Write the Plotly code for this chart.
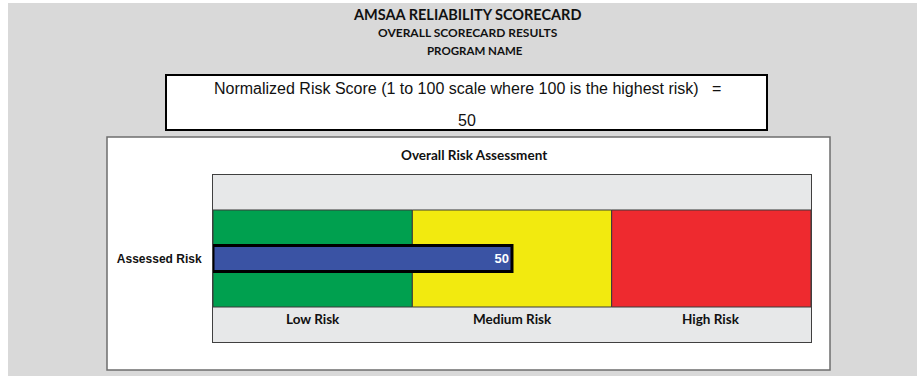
import plotly.graph_objects as go

# Risk zones along the 0-100 normalized scale
zone_names = ["Low Risk", "Medium Risk", "High Risk"]
zone_lower = [0, 100 / 3, 200 / 3]
zone_upper = [100 / 3, 200 / 3, 100]

# Assessed item and its normalized score
category = ["Assessed Risk"]
risk_score = [50]

title_lines = ["AMSAA RELIABILITY SCORECARD", "OVERALL SCORECARD RESULTS", "PROGRAM NAME"]
score_caption = "Normalized Risk Score (1 to 100 scale where 100 is the highest risk)   ="
chart_title = "Overall Risk Assessment"

ZONE_COLORS = ["#00a04f", "#f2ea0f", "#ee2a2f"]
BAR_COLOR = "#3a53a4"
PAGE_GRAY = "#d9d9d9"
BAND_GRAY = "#e7e8e9"

W, H = 917, 376
L, R, T, B = 213, 106, 175, 34
PW, PH = W - L - R, H - T - B


def px(x):
    """Pixel column -> paper x."""
    return (x - L) / PW


def py(y):
    """Pixel row -> paper y."""
    return (H - B - y) / PH


CALIBRI_LIKE = "Lato, 'Open Sans', sans-serif"
ARIAL_LIKE = "'Liberation Sans', Arial, sans-serif"

fig = go.Figure()

for name, lo, hi, col in zip(zone_names, zone_lower, zone_upper, ZONE_COLORS):
    fig.add_trace(go.Bar(
        y=category, x=[hi - lo], base=[lo], orientation="h",
        width=1.162, name=name,
        marker=dict(color=col, line=dict(color="#3a3a3a", width=1)),
        hoverinfo="skip",
    ))

fig.add_trace(go.Bar(
    y=category, x=risk_score, orientation="h", width=0.31,
    name="Assessed Risk",
    marker=dict(color=BAR_COLOR, line=dict(color="black", width=3)),
    text=[f"<b>{v}</b>" for v in risk_score],
    textposition="inside", insidetextanchor="end",
    textfont=dict(color="white", size=13, family=ARIAL_LIKE),
    hoverinfo="x",
))

annotations = []
# Zone captions inside the lower gray band
for name, lo, hi in zip(zone_names, zone_lower, zone_upper):
    annotations.append(dict(
        x=(lo + hi) / 2, y=-0.725, xref="x", yref="y", text=f"<b>{name}</b>",
        showarrow=False, font=dict(family=CALIBRI_LIKE, size=13.5, color="#111111"),
        xanchor="center", yanchor="middle",
    ))

# Header lines
for txt, xx, yy, sz in zip(title_lines, [467, 468, 475], [14, 32, 50], [14.5, 12, 11.5]):
    annotations.append(dict(
        x=px(xx), y=py(yy), xref="paper", yref="paper", text=f"<b>{txt}</b>",
        showarrow=False, font=dict(family=CALIBRI_LIKE, size=sz, color="#111111"),
        xanchor="center", yanchor="middle",
    ))

# Score box text
annotations.append(dict(
    x=px(467), y=py(89), xref="paper", yref="paper", text=score_caption,
    showarrow=False, font=dict(family=ARIAL_LIKE, size=16, color="#111111"),
    xanchor="center", yanchor="middle",
))
annotations.append(dict(
    x=px(467), y=py(120), xref="paper", yref="paper", text=str(risk_score[0]),
    showarrow=False, font=dict(family=ARIAL_LIKE, size=16, color="#111111"),
    xanchor="center", yanchor="middle",
))

# Chart title
annotations.append(dict(
    x=px(474), y=py(155), xref="paper", yref="paper", text=f"<b>{chart_title}</b>",
    showarrow=False, font=dict(family=CALIBRI_LIKE, size=13.5, color="#111111"),
    xanchor="center", yanchor="middle",
))

shapes = [
    # white page margins
    dict(type="rect", xref="paper", yref="paper", x0=px(-2), x1=px(8), y0=py(-2), y1=py(H + 2),
         fillcolor="white", line=dict(width=0), layer="below"),
    dict(type="rect", xref="paper", yref="paper", x0=px(-2), x1=px(W + 2), y0=py(-2), y1=py(3),
         fillcolor="white", line=dict(width=0), layer="below"),
    # score box
    dict(type="rect", xref="paper", yref="paper", x0=px(166), x1=px(767), y0=py(75), y1=py(130),
         fillcolor="white", line=dict(color="black", width=2), layer="below"),
    # chart area
    dict(type="rect", xref="paper", yref="paper", x0=px(107), x1=px(830), y0=py(137), y1=py(370),
         fillcolor="white", line=dict(color="#6e6e6e", width=1.5), layer="below"),
    # plot area band
    dict(type="rect", xref="paper", yref="paper", x0=0, x1=1, y0=0, y1=1,
         fillcolor=BAND_GRAY, line=dict(width=0), layer="below"),
]

fig.update_layout(
    width=W, height=H,
    margin=dict(l=L, r=R, t=T, b=B, pad=0),
    paper_bgcolor=PAGE_GRAY,
    plot_bgcolor=BAND_GRAY,
    barmode="overlay",
    showlegend=False,
    annotations=annotations,
    shapes=shapes,
    xaxis=dict(range=[0, 100], showgrid=False, zeroline=False, showticklabels=False,
               showline=True, mirror=True, linecolor="#404040", linewidth=1, fixedrange=True),
    yaxis=dict(range=[-1, 1], showgrid=False, zeroline=False,
               showline=True, mirror=True, linecolor="#404040", linewidth=1,
               ticks="", ticklabelstandoff=8, fixedrange=True,
               tickfont=dict(family=ARIAL_LIKE, size=12, color="#111111"),
               tickvals=category, ticktext=[f"<b>{c}</b>" for c in category]),
)

fig.write_html("out.html", config={"displayModeBar": False})
